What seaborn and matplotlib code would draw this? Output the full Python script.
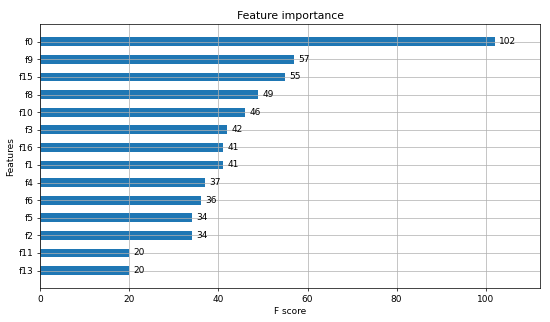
import matplotlib
matplotlib.use("Agg")
import matplotlib.pyplot as plt
import pandas as pd
import seaborn as sns

features = ["f0", "f9", "f15", "f8", "f10", "f3", "f16", "f1", "f4", "f6", "f5", "f2", "f11", "f13"]
scores = [102, 57, 55, 49, 46, 42, 41, 41, 37, 36, 34, 34, 20, 20]

df = pd.DataFrame({"feature": features, "score": scores})

# low dpi so default font sizes / line widths come out at the reference scale
dpi = 65
fig, ax = plt.subplots(figsize=(550 / dpi, 322 / dpi), dpi=dpi)
sns.barplot(data=df, x="score", y="feature", orient="h", color="#1f77b4",
            saturation=1, width=0.5, ax=ax)

for i, v in enumerate(scores):
    ax.text(v + 1, i, str(v), va="center")

ax.set_xlim(0, max(scores) * 1.1)
ax.set_ylim(len(features), -1)
ax.grid(True)
ax.set_title("Feature importance")
ax.set_xlabel("F score")
ax.set_ylabel("Features")

fig.subplots_adjust(left=0.073, right=0.982, top=0.925, bottom=0.105)
fig.savefig("out.png", dpi=dpi)
